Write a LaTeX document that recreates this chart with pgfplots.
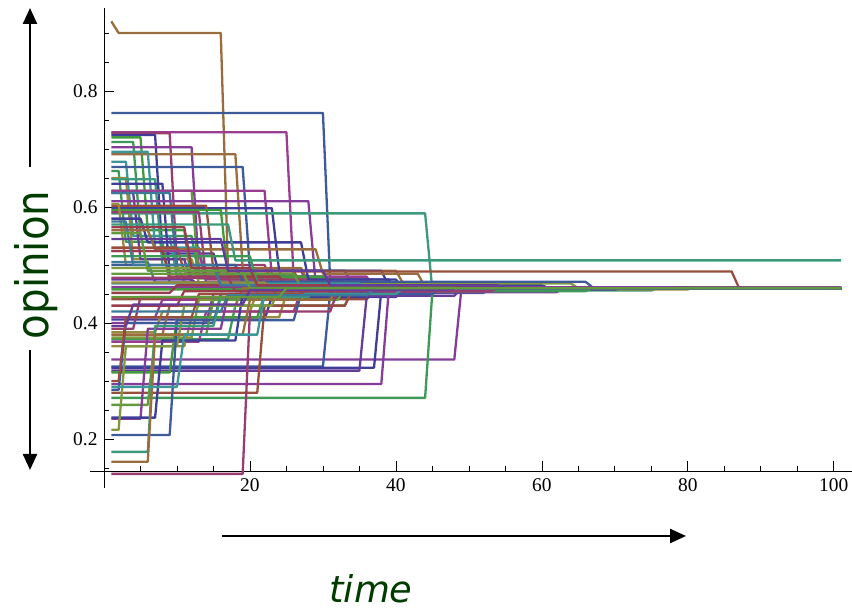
\documentclass[border=0pt]{standalone}
\usepackage{fontspec}
\setmainfont{Liberation Serif}
\newfontfamily\opfont[FakeStretch=0.9]{DejaVu Sans}
\newfontfamily\timefont{DejaVu Sans}
\usepackage{pgfplots}
\pgfplotsset{compat=1.18}
\usetikzlibrary{arrows.meta}
\definecolor{c0}{hsb}{0.670,0.6,0.6}
\definecolor{c1}{hsb}{0.906,0.6,0.6}
\definecolor{c2}{hsb}{0.142,0.6,0.6}
\definecolor{c3}{hsb}{0.378,0.6,0.6}
\definecolor{c4}{hsb}{0.614,0.6,0.6}
\definecolor{c5}{hsb}{0.850,0.6,0.6}
\definecolor{c6}{hsb}{0.086,0.6,0.6}
\definecolor{c7}{hsb}{0.322,0.6,0.6}
\definecolor{c8}{hsb}{0.559,0.6,0.6}
\definecolor{c9}{hsb}{0.795,0.6,0.6}
\definecolor{c10}{hsb}{0.031,0.6,0.6}
\definecolor{c11}{hsb}{0.267,0.6,0.6}
\definecolor{c12}{hsb}{0.503,0.6,0.6}
\definecolor{c13}{hsb}{0.739,0.6,0.6}
\definecolor{c14}{hsb}{0.975,0.6,0.6}
\definecolor{c15}{hsb}{0.211,0.6,0.6}
\definecolor{c16}{hsb}{0.447,0.6,0.6}
\definecolor{dkgreen}{RGB}{0,60,0}
\begin{document}
\begin{tikzpicture}
\path[use as bounding box] (0,0) rectangle (852bp,611bp);
\begin{axis}[
  at={(104bp,140bp)}, anchor=south west,
  width=748bp, height=463bp, scale only axis,
  xmin=0, xmax=102.5, ymin=0.145, ymax=0.943,
  axis lines=left, axis line style={-, line width=0.8bp, black},
  tick align=inside, major tick length=10bp, minor tick length=5bp,
  tick style={black, line width=0.7bp},
  xtick={20,40,60,80,100},
  minor xtick={5,10,15,25,30,35,45,50,55,65,70,75,85,90,95},
  ytick={0.2,0.4,0.6,0.8},
  minor ytick={0.15,0.25,0.3,0.35,0.45,0.5,0.55,0.65,0.7,0.75,0.85,0.9},
  /pgf/number format/assume math mode=true,
  ticklabel style={font=\fontsize{19.5}{20}\selectfont},
  yticklabel style={/pgf/number format/fixed, /pgf/number format/precision=1, xshift=-3bp},
  xticklabel style={yshift=-4bp},
  clip=false,
  no markers,
  every axis plot post/.append style={line width=2.3bp, line join=round},
]
\addplot[c6] coordinates {(1,0.92)(2,0.90)(16,0.90)(17,0.49)(40,0.49)(41,0.468)(57,0.468)(58,0.461)(101,0.461)};
\addplot[c4] coordinates {(1,0.762)(30,0.762)(31,0.47)(47,0.47)(48,0.461)(101,0.461)};
\addplot[c5] coordinates {(1,0.729)(25,0.729)(26,0.475)(36,0.475)(37,0.46)(101,0.46)};
\addplot[c1] coordinates {(1,0.727)(9,0.727)(10,0.50)(22,0.50)(23,0.47)(45,0.47)(46,0.46)(101,0.46)};
\addplot[c0] coordinates {(1,0.724)(7,0.724)(8,0.52)(15,0.52)(16,0.475)(40,0.475)(41,0.46)(101,0.46)};
\addplot[c3] coordinates {(1,0.712)(4,0.712)(5,0.55)(12,0.55)(13,0.48)(30,0.48)(31,0.46)(101,0.46)};
\addplot[c7] coordinates {(1,0.72)(5,0.72)(6,0.56)(11,0.56)(12,0.47)(38,0.47)(39,0.459)(101,0.46)};
\addplot[c9] coordinates {(1,0.703)(12,0.703)(13,0.49)(27,0.49)(28,0.465)(50,0.465)(51,0.46)(101,0.46)};
\addplot[c6] coordinates {(1,0.691)(18,0.691)(19,0.495)(27,0.495)(28,0.47)(42,0.47)(43,0.46)(101,0.46)};
\addplot[c12] coordinates {(1,0.695)(6,0.695)(7,0.53)(13,0.53)(14,0.47)(35,0.47)(36,0.46)(101,0.46)};
\addplot[c12] coordinates {(1,0.678)(3,0.678)(4,0.55)(9,0.55)(10,0.48)(25,0.48)(26,0.462)(101,0.461)};
\addplot[c4] coordinates {(1,0.669)(19,0.669)(20,0.49)(33,0.49)(34,0.466)(55,0.466)(56,0.46)(101,0.46)};
\addplot[c3] coordinates {(1,0.662)(2,0.662)(3,0.54)(8,0.54)(9,0.47)(28,0.47)(29,0.46)(101,0.46)};
\addplot[c2] coordinates {(1,0.65)(3,0.65)(4,0.51)(12,0.51)(13,0.47)(31,0.47)(32,0.46)(101,0.46)};
\addplot[c16] coordinates {(1,0.648)(7,0.648)(8,0.50)(18,0.50)(19,0.465)(44,0.465)(45,0.461)(101,0.461)};
\addplot[c0] coordinates {(1,0.64)(8,0.64)(9,0.485)(21,0.485)(22,0.462)(101,0.461)};
\addplot[c11] coordinates {(1,0.628)(12,0.628)(13,0.477)(33,0.477)(34,0.46)(101,0.46)};
\addplot[c5] coordinates {(1,0.628)(22,0.628)(23,0.48)(36,0.48)(37,0.458)(73,0.458)(74,0.461)(101,0.461)};
\addplot[c13] coordinates {(1,0.624)(4,0.624)(5,0.51)(11,0.51)(12,0.47)(26,0.47)(27,0.46)(101,0.46)};
\addplot[c8] coordinates {(1,0.624)(9,0.624)(10,0.49)(24,0.49)(25,0.465)(52,0.465)(53,0.46)(101,0.46)};
\addplot[c9] coordinates {(1,0.61)(28,0.61)(29,0.47)(43,0.47)(44,0.46)(101,0.46)};
\addplot[c0] coordinates {(1,0.598)(23,0.598)(24,0.49)(38,0.49)(39,0.465)(60,0.465)(61,0.46)(101,0.46)};
\addplot[c10] coordinates {(1,0.602)(14,0.602)(15,0.49)(26,0.49)(27,0.465)(47,0.465)(48,0.46)(101,0.46)};
\addplot[c16] coordinates {(1,0.589)(44,0.589)(45,0.456)(75,0.456)(76,0.461)(101,0.461)};
\addplot[c7] coordinates {(1,0.595)(16,0.595)(17,0.48)(30,0.48)(31,0.462)(101,0.461)};
\addplot[c1] coordinates {(1,0.591)(13,0.591)(14,0.475)(29,0.475)(30,0.46)(101,0.46)};
\addplot[c2] coordinates {(1,0.605)(2,0.605)(3,0.50)(10,0.50)(11,0.47)(34,0.47)(35,0.46)(101,0.46)};
\addplot[c0] coordinates {(1,0.58)(5,0.58)(6,0.539)(27,0.539)(28,0.475)(39,0.475)(40,0.46)(101,0.46)};
\addplot[c6] coordinates {(1,0.56)(6,0.56)(7,0.527)(29,0.527)(30,0.485)(43,0.485)(44,0.462)(101,0.461)};
\addplot[c16] coordinates {(1,0.57)(17,0.57)(18,0.508)(101,0.508)};
\addplot[c10] coordinates {(1,0.53)(10,0.53)(11,0.489)(86,0.489)(87,0.461)(101,0.461)};
\addplot[c5] coordinates {(1,0.524)(13,0.524)(14,0.47)(37,0.47)(38,0.46)(101,0.46)};
\addplot[c14] coordinates {(1,0.524)(8,0.524)(9,0.48)(24,0.48)(25,0.46)(101,0.46)};
\addplot[c3] coordinates {(1,0.515)(20,0.515)(21,0.47)(40,0.47)(41,0.46)(101,0.46)};
\addplot[c8] coordinates {(1,0.505)(6,0.505)(7,0.47)(29,0.47)(30,0.46)(101,0.46)};
\addplot[c15] coordinates {(1,0.495)(15,0.495)(16,0.468)(64,0.468)(65,0.46)(101,0.46)};
\addplot[c4] coordinates {(1,0.50)(18,0.50)(19,0.471)(66,0.471)(67,0.461)(101,0.461)};
\addplot[c11] coordinates {(1,0.485)(26,0.485)(27,0.462)(101,0.461)};
\addplot[c13] coordinates {(1,0.475)(12,0.475)(13,0.465)(42,0.465)(43,0.461)(101,0.461)};
\addplot[c12] coordinates {(1,0.468)(35,0.468)(36,0.456)(62,0.456)(63,0.46)(101,0.46)};
\addplot[c2] coordinates {(1,0.47)(22,0.47)(23,0.458)(80,0.458)(81,0.461)(101,0.461)};
\addplot[c9] coordinates {(1,0.462)(30,0.462)(31,0.46)(101,0.46)};
\addplot[c7] coordinates {(1,0.458)(30,0.458)(31,0.46)(101,0.46)};
\addplot[c14] coordinates {(1,0.452)(9,0.452)(10,0.465)(48,0.465)(49,0.46)(101,0.46)};
\addplot[c1] coordinates {(1,0.478)(17,0.478)(18,0.455)(55,0.455)(56,0.46)(101,0.46)};
\addplot[c10] coordinates {(1,0.441)(36,0.441)(37,0.455)(58,0.455)(59,0.46)(101,0.46)};
\addplot[c0] coordinates {(1,0.406)(22,0.406)(23,0.445)(40,0.445)(41,0.458)(70,0.458)(71,0.46)(101,0.46)};
\addplot[c5] coordinates {(1,0.41)(7,0.41)(8,0.44)(25,0.44)(26,0.46)(101,0.46)};
\addplot[c9] coordinates {(1,0.40)(14,0.40)(15,0.45)(34,0.45)(35,0.46)(101,0.46)};
\addplot[c3] coordinates {(1,0.372)(17,0.372)(18,0.43)(33,0.43)(34,0.458)(60,0.458)(61,0.46)(101,0.46)};
\addplot[c2] coordinates {(1,0.384)(7,0.384)(8,0.42)(20,0.42)(21,0.455)(46,0.455)(47,0.46)(101,0.46)};
\addplot[c6] coordinates {(1,0.38)(8,0.38)(9,0.43)(18,0.43)(19,0.46)(101,0.46)};
\addplot[c15] coordinates {(1,0.375)(12,0.375)(13,0.44)(27,0.44)(28,0.46)(101,0.46)};
\addplot[c5] coordinates {(1,0.368)(13,0.368)(14,0.42)(26,0.42)(27,0.455)(50,0.455)(51,0.46)(101,0.46)};
\addplot[c2] coordinates {(1,0.36)(11,0.36)(12,0.41)(24,0.41)(25,0.45)(44,0.45)(45,0.46)(101,0.46)};
\addplot[c1] coordinates {(1,0.39)(4,0.39)(5,0.445)(23,0.445)(24,0.46)(101,0.46)};
\addplot[c9] coordinates {(1,0.337)(48,0.337)(49,0.462)(101,0.461)};
\addplot[c4] coordinates {(1,0.325)(30,0.325)(31,0.452)(52,0.452)(53,0.46)(101,0.46)};
\addplot[c0] coordinates {(1,0.323)(37,0.323)(38,0.456)(55,0.456)(56,0.46)(101,0.46)};
\addplot[c13] coordinates {(1,0.318)(35,0.318)(36,0.447)(48,0.447)(49,0.46)(101,0.46)};
\addplot[c7] coordinates {(1,0.315)(9,0.315)(10,0.41)(21,0.41)(22,0.45)(39,0.45)(40,0.46)(101,0.46)};
\addplot[c9] coordinates {(1,0.295)(38,0.295)(39,0.453)(62,0.453)(63,0.46)(101,0.46)};
\addplot[c10] coordinates {(1,0.28)(21,0.28)(22,0.43)(33,0.43)(34,0.455)(49,0.455)(50,0.46)(101,0.46)};
\addplot[c4] coordinates {(1,0.285)(2,0.285)(3,0.40)(15,0.40)(16,0.45)(37,0.45)(38,0.46)(101,0.46)};
\addplot[c3] coordinates {(1,0.271)(44,0.271)(45,0.455)(66,0.455)(67,0.46)(101,0.46)};
\addplot[c11] coordinates {(1,0.259)(6,0.259)(7,0.38)(14,0.38)(15,0.44)(32,0.44)(33,0.46)(101,0.46)};
\addplot[c9] coordinates {(1,0.235)(5,0.235)(6,0.39)(16,0.39)(17,0.45)(41,0.45)(42,0.46)(101,0.46)};
\addplot[c0] coordinates {(1,0.237)(7,0.237)(8,0.37)(18,0.37)(19,0.45)(35,0.45)(36,0.46)(101,0.46)};
\addplot[c15] coordinates {(1,0.216)(2,0.216)(3,0.36)(10,0.36)(11,0.43)(23,0.43)(24,0.46)(101,0.46)};
\addplot[c4] coordinates {(1,0.207)(9,0.207)(10,0.405)(26,0.405)(27,0.45)(45,0.45)(46,0.46)(101,0.46)};
\addplot[c16] coordinates {(1,0.178)(6,0.178)(7,0.395)(15,0.395)(16,0.445)(28,0.445)(29,0.46)(101,0.46)};
\addplot[c6] coordinates {(1,0.161)(6,0.161)(7,0.38)(19,0.38)(20,0.44)(31,0.44)(32,0.46)(101,0.46)};
\addplot[c1] coordinates {(1,0.14)(19,0.14)(20,0.42)(31,0.42)(32,0.455)(53,0.455)(54,0.46)(101,0.46)};
\addplot[c12] coordinates {(1,0.29)(10,0.29)(11,0.38)(21,0.38)(22,0.45)(40,0.45)(41,0.46)(101,0.46)};
\addplot[c10] coordinates {(1,0.30)(2,0.30)(3,0.41)(12,0.41)(13,0.45)(27,0.45)(28,0.46)(101,0.46)};
\addplot[c8] coordinates {(1,0.575)(3,0.575)(4,0.50)(15,0.50)(16,0.465)(39,0.465)(40,0.46)(101,0.46)};
\addplot[c14] coordinates {(1,0.565)(11,0.565)(12,0.495)(20,0.495)(21,0.465)(41,0.465)(42,0.46)(101,0.46)};
\addplot[c11] coordinates {(1,0.555)(5,0.555)(6,0.49)(19,0.49)(20,0.46)(101,0.46)};
\addplot[c13] coordinates {(1,0.545)(16,0.545)(17,0.49)(30,0.49)(31,0.465)(54,0.465)(55,0.46)(101,0.46)};
\addplot[c14] coordinates {(1,0.43)(10,0.43)(11,0.455)(33,0.455)(34,0.46)(101,0.46)};
\addplot[c8] coordinates {(1,0.42)(16,0.42)(17,0.448)(36,0.448)(37,0.459)(101,0.459)};
\addplot[c13] coordinates {(1,0.395)(3,0.395)(4,0.432)(19,0.432)(20,0.457)(47,0.457)(48,0.46)(101,0.46)};
\addplot[c11] coordinates {(1,0.445)(24,0.445)(25,0.46)(101,0.46)};
\draw[line width=0.8bp] (axis cs:-1.9,0.145) -- (axis cs:0,0.145);
\draw[line width=0.8bp] (axis cs:0,0.145) -- (axis cs:0,0.115);
\end{axis}
\draw[line width=2.4bp, -{Triangle[width=14bp,length=16bp]}] (30bp,444bp) -- (30bp,603bp);
\draw[line width=2.4bp, -{Triangle[width=14bp,length=16bp]}] (30bp,261bp) -- (30bp,141bp);
\draw[line width=2.4bp, -{Triangle[width=14bp,length=16bp]}] (222bp,75bp) -- (686bp,75bp);
\node[rotate=90, anchor=base, text=dkgreen, inner sep=0pt, font=\opfont\fontsize{45}{50}\selectfont] at (48bp,346bp) {opinion};
\node[anchor=base, text=dkgreen, inner sep=0pt, font=\timefont\itshape\fontsize{37}{40}\selectfont] at (371bp,9bp) {time};
\end{tikzpicture}
\end{document}
